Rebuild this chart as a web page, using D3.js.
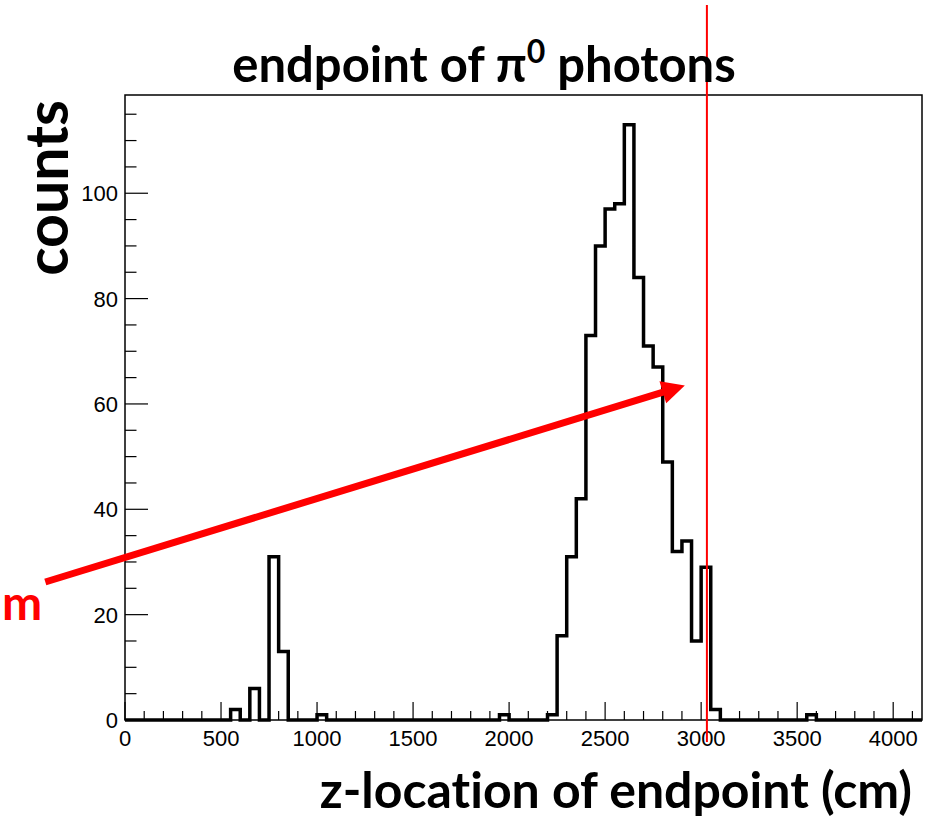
<!DOCTYPE html>
<html>
<head>
<meta charset="utf-8">
<script src="https://cdn.jsdelivr.net/npm/d3@7"></script>
<style>
  html, body { margin: 0; padding: 0; background: #fff; }
  svg { display: block; }
  text { font-variant-ligatures: none; }
</style>
</head>
<body>
<div id="chart"></div>
<script>
// histogram: 83 bins of 50 cm from 0 to 4150
const binStart = 0;
const binWidth = 50;
const binCounts = [
  0, 0, 0, 0, 0, 0, 0, 0, 0, 0,       // 0 - 500
  0, 2, 0, 6, 0, 31, 13, 0, 0, 0,     // 500 - 1000
  1, 0, 0, 0, 0, 0, 0, 0, 0, 0,       // 1000 - 1500
  0, 0, 0, 0, 0, 0, 0, 0, 0, 1,       // 1500 - 2000
  0, 0, 0, 0, 1, 16, 31, 42, 73, 90,  // 2000 - 2500
  97, 98, 113, 84, 71, 67, 49, 32, 34, 15, // 2500 - 3000
  29, 2, 0, 0, 0, 0, 0, 0, 0, 0,      // 3000 - 3500
  0, 1, 0, 0, 0, 0, 0, 0, 0, 0,       // 3500 - 4000
  0, 0, 0                             // 4000 - 4150
];
const xTickLabels = ["0", "500", "1000", "1500", "2000", "2500", "3000", "3500", "4000"];
const yTickLabels = ["0", "20", "40", "60", "80", "100"];
const xDomain = [0, 4150];
const yDomain = [0, 118.65];

// annotations (in data units)
const cutZ = 3030;
const arrowTail = [-415, 26.2];
const arrowTip = [2915, 63.5];

const titleText = "endpoint of π";
const xTitleText = "z-location of endpoint (cm)";
const yTitleText = "counts";

const width = 928;
const height = 822;
const margin = { left: 125, right: 6, top: 95, bottom: 102 };

const svg = d3.select("#chart")
  .append("svg")
  .attr("width", width)
  .attr("height", height);

const x = d3.scaleLinear()
  .domain(xDomain)
  .range([margin.left, width - margin.right]);
const y = d3.scaleLinear()
  .domain(yDomain)
  .range([height - margin.bottom, margin.top]);

// frame
svg.append("rect")
  .attr("x", x(xDomain[0]))
  .attr("y", y(yDomain[1]))
  .attr("width", x(xDomain[1]) - x(xDomain[0]))
  .attr("height", y(yDomain[0]) - y(yDomain[1]))
  .attr("fill", "none")
  .attr("stroke", "black")
  .attr("stroke-width", 1.5);

// x axis: major ticks every 500, minor every 100
const labelFont = "'Liberation Sans', Arial, Helvetica, sans-serif";
const xMinor = d3.range(0, 4101, 100);
svg.append("g")
  .selectAll("line")
  .data(xMinor)
  .join("line")
  .attr("x1", d => x(d))
  .attr("x2", d => x(d))
  .attr("y1", y(0))
  .attr("y2", d => y(0) - (d % 500 === 0 ? 18 : 9))
  .attr("stroke", "black")
  .attr("stroke-width", 1.2);

svg.append("g")
  .selectAll("text")
  .data(xTickLabels)
  .join("text")
  .attr("x", d => x(+d))
  .attr("y", y(0) + 26)
  .attr("text-anchor", "middle")
  .attr("font-family", labelFont)
  .attr("font-size", 22)
  .text(d => d);

// y axis: major ticks every 20, minor every 5
const yMinor = d3.range(0, 116, 5);
svg.append("g")
  .selectAll("line")
  .data(yMinor)
  .join("line")
  .attr("x1", x(0))
  .attr("x2", d => x(0) + (d % 20 === 0 ? 23 : 11.5))
  .attr("y1", d => y(d))
  .attr("y2", d => y(d))
  .attr("stroke", "black")
  .attr("stroke-width", 1.2);

svg.append("g")
  .selectAll("text")
  .data(yTickLabels)
  .join("text")
  .attr("x", x(0) - 7)
  .attr("y", d => y(+d) + 8)
  .attr("text-anchor", "end")
  .attr("font-family", labelFont)
  .attr("font-size", 22)
  .text(d => d);

// histogram outline as steps
const steps = binCounts.map((c, i) => [binStart + i * binWidth, c]);
steps.push([binStart + binCounts.length * binWidth, binCounts[binCounts.length - 1]]);
const stepLine = d3.line()
  .x(d => x(d[0]))
  .y(d => y(d[1]))
  .curve(d3.curveStepAfter);

svg.append("path")
  .datum(steps)
  .attr("d", stepLine)
  .attr("fill", "none")
  .attr("stroke", "black")
  .attr("stroke-width", 3.5)
  .attr("stroke-linejoin", "miter");

// red cut line
svg.append("line")
  .attr("x1", x(cutZ))
  .attr("x2", x(cutZ))
  .attr("y1", 5)
  .attr("y2", 742)
  .attr("stroke", "#ff0000")
  .attr("stroke-width", 2);

// red arrow
const p0 = [x(arrowTail[0]), y(arrowTail[1])];
const p1 = [x(arrowTip[0]), y(arrowTip[1])];
const dx = p1[0] - p0[0], dy = p1[1] - p0[1];
const len = Math.hypot(dx, dy);
const ux = dx / len, uy = dy / len;
const headLen = 23, headHalf = 11.5;
const base = [p1[0] - ux * headLen, p1[1] - uy * headLen];

svg.append("line")
  .attr("x1", p0[0])
  .attr("y1", p0[1])
  .attr("x2", base[0] + ux * 2)
  .attr("y2", base[1] + uy * 2)
  .attr("stroke", "#ff0000")
  .attr("stroke-width", 7);

svg.append("path")
  .attr("d", d3.line()([
    p1,
    [base[0] - uy * headHalf, base[1] + ux * headHalf],
    [base[0] + uy * headHalf, base[1] - ux * headHalf]
  ]) + "Z")
  .attr("fill", "#ff0000");

// texts
const titleFont = "Lato, 'Open Sans', sans-serif";
const title = svg.append("text")
  .attr("x", 484)
  .attr("y", 82)
  .attr("text-anchor", "middle")
  .attr("font-family", titleFont)
  .attr("font-weight", "bold")
  .attr("font-size", 49);
title.append("tspan").text(titleText);
title.append("tspan")
  .attr("dy", -19)
  .attr("font-size", 32)
  .text("0");
title.append("tspan")
  .attr("dy", 19)
  .text(" photons");

svg.append("text")
  .attr("x", 912)
  .attr("y", 808)
  .attr("text-anchor", "end")
  .attr("font-family", titleFont)
  .attr("font-weight", "bold")
  .attr("font-size", 50)
  .text(xTitleText);

svg.append("text")
  .attr("transform", "translate(68,100) rotate(-90)")
  .attr("text-anchor", "end")
  .attr("font-family", titleFont)
  .attr("font-weight", "bold")
  .attr("font-size", 59)
  .text(yTitleText);

svg.append("text")
  .attr("x", 2)
  .attr("y", 620)
  .attr("fill", "#ff0000")
  .attr("font-family", titleFont)
  .attr("font-weight", "bold")
  .attr("font-size", 48)
  .text("m");
</script>
</body>
</html>
